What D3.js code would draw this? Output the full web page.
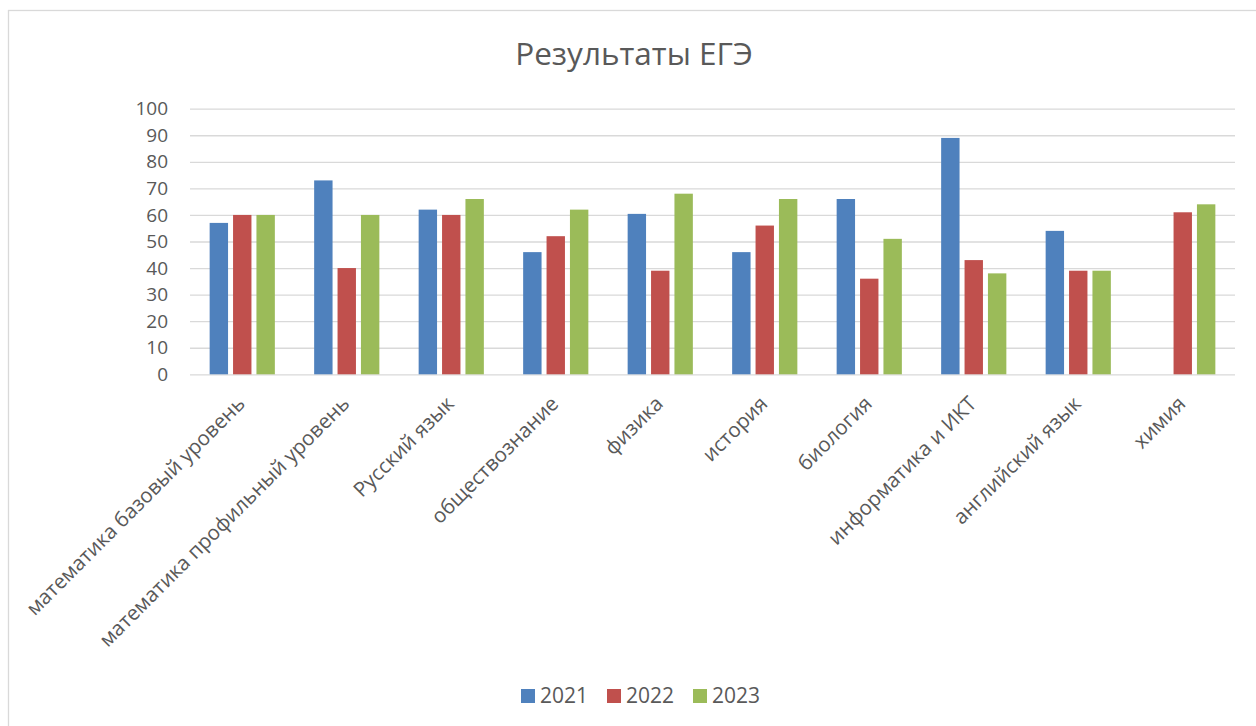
<!DOCTYPE html>
<html>
<head>
<meta charset="utf-8">
<script src="https://cdnjs.cloudflare.com/ajax/libs/d3/7.8.5/d3.min.js"></script>
<style>
  body { margin: 0; background: #fff; }
  text { font-family: "Open Sans", sans-serif; fill: #595959; }
</style>
</head>
<body>
<script>
var w = 1256;
var h = 726;

// data
var subjects = [
  "математика базовый уровень",
  "математика профильный уровень",
  "Русский язык",
  "обществознание",
  "физика",
  "история",
  "биология",
  "информатика и ИКТ",
  "английский язык",
  "химия"
];
var years = ["2021", "2022", "2023"];
var res2021 = [57, 73, 62, 46, 60.4, 46, 66, 89, 54, null];
var res2022 = [60, 40, 60, 52, 39, 56, 36, 43, 39, 61];
var res2023 = [60, 60, 66, 62, 68, 66, 51, 38, 39, 64];
var yTicks = [0, 10, 20, 30, 40, 50, 60, 70, 80, 90, 100];
var colors = ["#4F81BD", "#C0504D", "#9BBB59"];

var series = [res2021, res2022, res2023];

var svg = d3.select("body").append("svg")
  .attr("width", w)
  .attr("height", h);

// chart frame
svg.append("rect")
  .attr("x", 8.5).attr("y", 10.5)
  .attr("width", w + 20).attr("height", h + 20)
  .attr("fill", "#fff")
  .attr("stroke", "#d9d9d9")
  .attr("stroke-width", 1.3);

// title
svg.append("text")
  .attr("x", 634).attr("y", 65)
  .attr("text-anchor", "middle")
  .attr("font-size", "31.5px")
  .text("Результаты ЕГЭ");

var x0 = d3.scaleBand()
  .domain(subjects)
  .range([190, 1235]);

var x1 = d3.scaleBand()
  .domain(years)
  .range([x0.bandwidth() / 2 - 32.6, x0.bandwidth() / 2 + 32.6])
  .paddingInner(0.2137);

var y = d3.scaleLinear()
  .domain([0, 100])
  .range([374.3, 108.7]);

// gridlines + y labels
var yAxis = d3.axisLeft(y)
  .tickValues(yTicks)
  .tickSize(-(1235 - 190))
  .tickPadding(22);

var gy = svg.append("g")
  .attr("transform", "translate(190,0)")
  .call(yAxis);
gy.select(".domain").remove();
gy.selectAll(".tick line")
  .attr("stroke", "#d9d9d9")
  .attr("stroke-width", 1.3);
gy.selectAll(".tick text")
  .attr("font-size", "19px")
  .attr("font-family", "Open Sans, sans-serif")
  .attr("fill", "#595959");

// bars
var groups = svg.selectAll("g.grp")
  .data(subjects)
  .enter()
  .append("g")
  .attr("class", "grp")
  .attr("transform", function(d){ return "translate(" + x0(d) + ",0)"; });

groups.selectAll("rect")
  .data(function(d, i){
    return years.map(function(yr, j){ return {year: yr, val: series[j][i], c: colors[j]}; });
  })
  .enter()
  .filter(function(d){ return d.val != null; })
  .append("rect")
  .attr("x", function(d){ return x1(d.year); })
  .attr("y", function(d){ return y(d.val); })
  .attr("width", x1.bandwidth())
  .attr("height", function(d){ return y(0) - y(d.val); })
  .attr("fill", function(d){ return d.c; });

// category labels
svg.selectAll("text.cat")
  .data(subjects)
  .enter()
  .append("text")
  .attr("class", "cat")
  .attr("text-anchor", "end")
  .attr("font-size", "20.5px")
  .attr("transform", function(d){
    var cx = x0(d) + x0.bandwidth() / 2;
    return "translate(" + (cx + 4) + ",405) rotate(-45)";
  })
  .text(function(d){ return d; });

// legend
var legend = svg.selectAll("g.leg")
  .data(years)
  .enter()
  .append("g")
  .attr("class", "leg")
  .attr("transform", function(d, i){ return "translate(" + (521 + i * 86) + ",689)"; });

legend.append("rect")
  .attr("width", 14).attr("height", 14)
  .attr("fill", function(d, i){ return colors[i]; });

legend.append("text")
  .attr("x", 19).attr("y", 14)
  .attr("font-size", "21px")
  .text(function(d){ return d; });
</script>
</body>
</html>
